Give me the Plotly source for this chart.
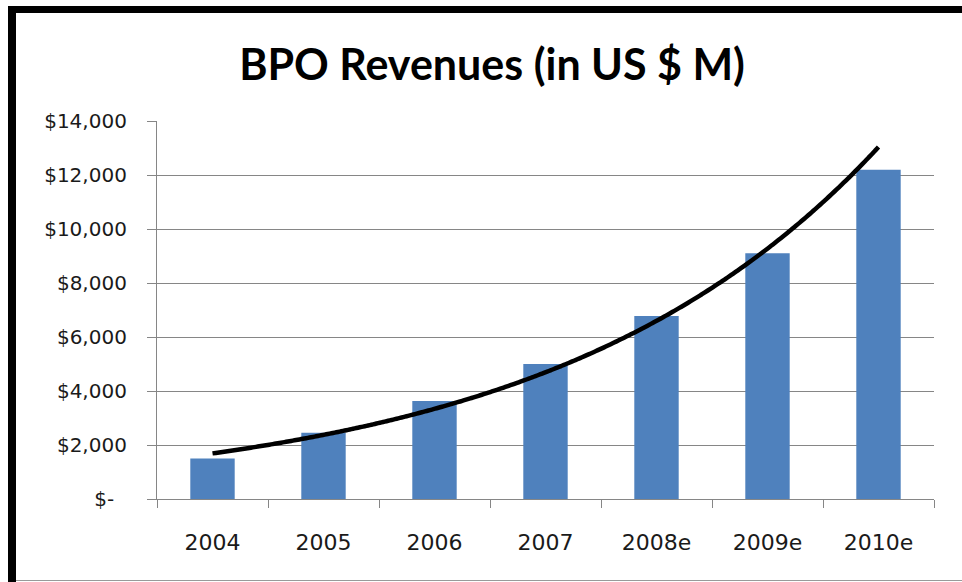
import numpy as np
import plotly.graph_objects as go

# Revenue by year (US $ millions); "e" marks estimates
years = ["2004", "2005", "2006", "2007", "2008e", "2009e", "2010e"]
revenues = [1500, 2450, 3630, 5000, 6780, 9100, 12190]

y_ticks = [0, 2000, 4000, 6000, 8000, 10000, 12000, 14000]
y_labels = ["$-\u00a0\u00a0", "$2,000", "$4,000", "$6,000", "$8,000",
            "$10,000", "$12,000", "$14,000"]

W, H = 962, 582
PLOT_L, PLOT_R, PLOT_T, PLOT_B = 157, 934, 121, 499

GRID = "#868686"
BAR = "#4F81BD"
TEXT = "#1a1a1a"

x_pos = np.arange(len(years))

# Exponential trend line fitted to the revenue series
coef = np.polyfit(x_pos, np.log(revenues), 1)
x_fit = np.linspace(x_pos[0], x_pos[-1], 200)
y_fit = np.exp(np.polyval(coef, x_fit))


def px_x(p):
    return (p - PLOT_L) / (PLOT_R - PLOT_L)


def px_y(p):
    return (PLOT_B - p) / (PLOT_B - PLOT_T)


fig = go.Figure()
fig.add_trace(go.Bar(x=x_pos, y=revenues, width=0.4, marker=dict(color=BAR, line=dict(width=0)),
                     hoverinfo="skip"))
fig.add_trace(go.Scatter(x=x_fit, y=y_fit, mode="lines",
                         line=dict(color="#000000", width=4.5, shape="spline"),
                         hoverinfo="skip"))

# Frame around the chart: heavy black on the left and top, thin grey at the bottom
frame = [
    dict(type="rect", xref="paper", yref="paper", x0=px_x(8), x1=px_x(16),
         y0=px_y(6), y1=px_y(582), fillcolor="#000000", line=dict(width=0), layer="above"),
    dict(type="rect", xref="paper", yref="paper", x0=px_x(8), x1=px_x(962),
         y0=px_y(6), y1=px_y(13), fillcolor="#000000", line=dict(width=0), layer="above"),
    dict(type="line", xref="paper", yref="paper", x0=px_x(16), x1=px_x(962),
         y0=px_y(580.5), y1=px_y(580.5), line=dict(color="#9a9a9a", width=1.2), layer="above"),
]

fig.update_layout(
    width=W, height=H,
    margin=dict(l=PLOT_L, r=W - PLOT_R, t=PLOT_T, b=H - PLOT_B, pad=0),
    paper_bgcolor="#ffffff", plot_bgcolor="#ffffff",
    showlegend=False,
    shapes=frame,
    title=dict(text="<b>BPO Revenues (in US $ M)</b>", x=492 / W, xanchor="center",
               y=1 - 65 / H, yanchor="middle", yref="container",
               font=dict(family="Lato", size=43, color="#000000")),
    font=dict(family="DejaVu Sans", color=TEXT),
)

fig.update_xaxes(
    range=[-0.5, 6.5], tickmode="array", tickvals=list(x_pos), ticktext=years,
    ticks="outside", ticklen=8, tickcolor="rgba(0,0,0,0)",
    ticklabelstandoff=15,
    tickfont=dict(family="DejaVu Sans", size=22, color=TEXT),
    minor=dict(tickmode="array", tickvals=[i - 0.5 for i in range(len(years) + 1)],
               ticks="outside", ticklen=8, tickcolor=GRID, tickwidth=1.2, showgrid=False),
    showline=True, linecolor=GRID, linewidth=1.2, showgrid=False, zeroline=False,
    fixedrange=True,
)
fig.update_yaxes(
    range=[0, 14000], tickmode="array", tickvals=y_ticks, ticktext=y_labels,
    ticks="outside", ticklen=9, tickcolor=GRID, tickwidth=1.2,
    ticklabelstandoff=16,
    tickfont=dict(family="DejaVu Sans", size=20, color=TEXT),
    showgrid=True, gridcolor=GRID, gridwidth=1.2,
    showline=True, linecolor=GRID, linewidth=1.2, zeroline=False,
    fixedrange=True,
)

fig.write_html("out.html", config={"displayModeBar": False})
